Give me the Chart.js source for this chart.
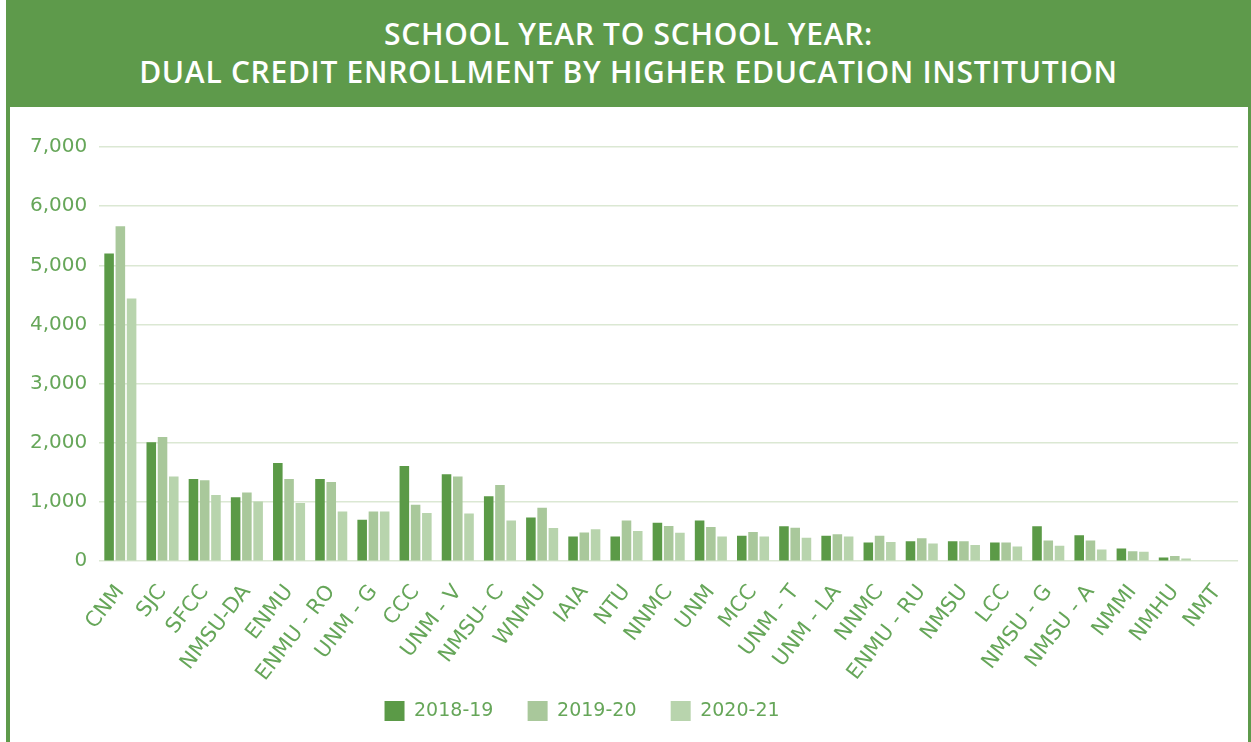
<!DOCTYPE html>
<html lang="en">
<head>
    <meta charset="UTF-8">
    <title>Dual Credit Enrollment</title>
    <style>
        body { margin: 0; background: #fff; width: 1251px; height: 742px; overflow: hidden; position: relative; }
        .frame {
            position: absolute; left: 6px; top: 0; width: 1238px; height: 742px;
            border-left: 4px solid #5e9a4b; border-right: 3px solid #5e9a4b;
        }
        .banner {
            position: absolute; left: 6px; top: 0; width: 1245px; height: 107px;
            background: #5e9a4b; color: #fff; text-align: center;
            font-family: "Open Sans", sans-serif; font-weight: 600; font-size: 30px;
            letter-spacing: 0.7px;
        }
        .banner .l1 { position: absolute; left: 0; right: 0; top: 13px; }
        .banner .l2 { position: absolute; left: 0; right: 0; top: 51px; }
        .chart-box { position: absolute; left: 10px; top: 107px; width: 1238px; height: 635px; }
    </style>
</head>
<body>
    <div class="frame"></div>
    <div class="banner">
        <div class="l1">SCHOOL YEAR TO SCHOOL YEAR:</div>
        <div class="l2">DUAL CREDIT ENROLLMENT BY HIGHER EDUCATION INSTITUTION</div>
    </div>
    <div class="chart-box">
        <canvas id="graficoDual" width="1238" height="635"></canvas>
    </div>

    <script src="https://cdn.jsdelivr.net/npm/chart.js"></script>
    <script>
        // dados
        const instituicoes = ['CNM', 'SJC', 'SFCC', 'NMSU-DA', 'ENMU', 'ENMU - RO', 'UNM - G', 'CCC', 'UNM - V', 'NMSU- C',
            'WNMU', 'IAIA', 'NTU', 'NNMC', 'UNM', 'MCC', 'UNM - T', 'UNM - LA', 'NNMC', 'ENMU - RU',
            'NMSU', 'LCC', 'NMSU - G', 'NMSU - A', 'NMMI', 'NMHU', 'NMT'];
        const anos = ['2018-19', '2019-20', '2020-21'];
        const valores1819 = [5200, 2010, 1390, 1080, 1660, 1390, 700, 1610, 1470, 1100, 740, 420, 420, 650, 690, 430, 590, 430, 315, 340, 340, 315, 590, 440, 215, 65, 0];
        const valores1920 = [5660, 2100, 1370, 1160, 1390, 1340, 840, 955, 1430, 1290, 905, 485, 690, 595, 580, 495, 565, 455, 430, 390, 340, 315, 350, 350, 170, 90, 0];
        const valores2021 = [4440, 1430, 1120, 1010, 985, 840, 840, 815, 805, 690, 560, 540, 510, 480, 420, 420, 395, 420, 325, 300, 275, 250, 260, 200, 160, 45, 0];
        const yTicks = [0, 1000, 2000, 3000, 4000, 5000, 6000, 7000];

        const cores = ['#5b9a47', '#a9c89b', '#b8d4ad'];
        const verdeTexto = '#66a659';

        const ctx = document.getElementById('graficoDual').getContext('2d');

        const grafico = new Chart(ctx, {
            type: 'bar',
            data: {
                labels: instituicoes,
                datasets: [
                    { label: anos[0], data: valores1819, backgroundColor: cores[0] },
                    { label: anos[1], data: valores1920, backgroundColor: cores[1] },
                    { label: anos[2], data: valores2021, backgroundColor: cores[2] }
                ]
            },
            options: {
                responsive: false,
                animation: false,
                datasets: {
                    bar: { categoryPercentage: 0.8, barPercentage: 0.85 }
                },
                layout: {
                    padding: { left: 8, right: 8, top: 40, bottom: 11 }
                },
                plugins: {
                    tooltip: { enabled: false },
                    legend: {
                        position: 'bottom',
                        labels: {
                            boxWidth: 20,
                            boxHeight: 20,
                            padding: 4,
                            color: verdeTexto,
                            font: { family: 'DejaVu Sans', size: 19 },
                            // espaços no fim para afastar os itens, e um item vazio para puxar a legenda pra esquerda
                            generateLabels: chart => {
                                const itens = Chart.defaults.plugins.legend.labels.generateLabels(chart);
                                itens.forEach(i => { i.text = i.text + '     '; });
                                itens.push({ text: '     ', fillStyle: 'rgba(0,0,0,0)', strokeStyle: 'rgba(0,0,0,0)', lineWidth: 0, hidden: false });
                                return itens;
                            }
                        }
                    }
                },
                scales: {
                    x: {
                        grid: { display: false },
                        border: { display: false },
                        ticks: {
                            autoSkip: false,
                            minRotation: 52,
                            maxRotation: 52,
                            padding: 11,
                            color: verdeTexto,
                            font: { family: 'DejaVu Sans', size: 21 }
                        }
                    },
                    y: {
                        min: 0,
                        max: 7000,
                        afterBuildTicks: axis => { axis.ticks = yTicks.map(v => ({ value: v })); },
                        border: { display: false },
                        grid: { color: '#dbe8d3', lineWidth: 1.5, drawTicks: false },
                        ticks: {
                            padding: 12,
                            color: verdeTexto,
                            font: { family: 'DejaVu Sans', size: 20 },
                            callback: v => v.toLocaleString('en-US')
                        }
                    }
                }
            }
        });
    </script>
</body>
</html>
